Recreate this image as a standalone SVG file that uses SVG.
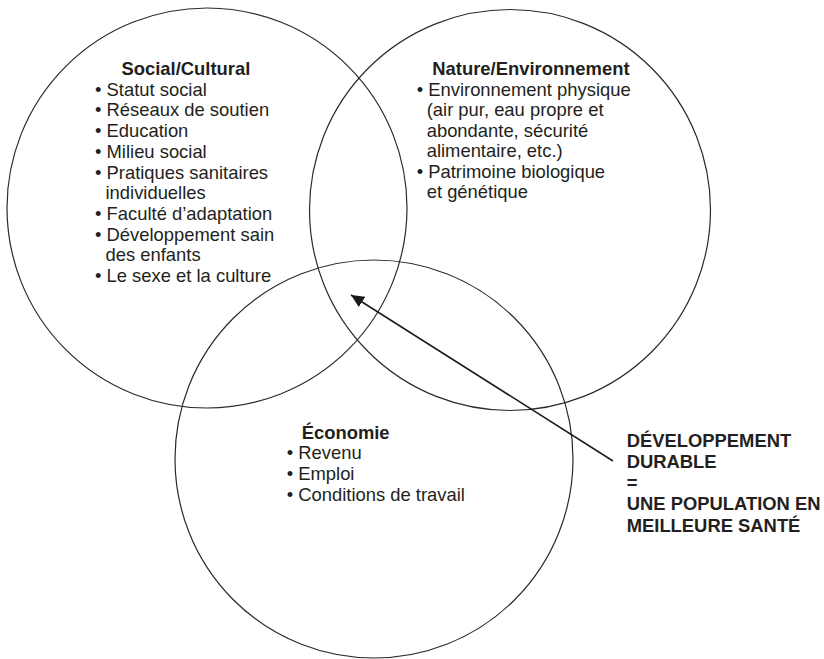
<svg xmlns="http://www.w3.org/2000/svg" width="824" height="659" viewBox="0 0 824 659">
<defs>
<style>
.c{fill:none;stroke:#2a2a2a;stroke-width:1.2}
.t{font-family:"Liberation Sans",Arial,sans-serif;font-size:18.4px;fill:#231f20}
.b{font-weight:bold}
</style>
<marker id="ah" viewBox="0 0 13 12" refX="13" refY="6" markerWidth="13" markerHeight="12" markerUnits="userSpaceOnUse" orient="auto">
<path d="M0,0 L13,6 L0,12 Z" fill="#1a1a1a"/>
</marker>
</defs>
<rect width="824" height="659" fill="#fff"/>
<g id="social">
<circle class="c" cx="207" cy="208" r="200"/>
<text class="t b" x="121.5" y="75">Social/Cultural</text>
<text class="t" x="95" y="95.7">• Statut social</text>
<text class="t" x="95" y="116.4">• Réseaux de soutien</text>
<text class="t" x="95" y="137.1">• Education</text>
<text class="t" x="95" y="157.8">• Milieu social</text>
<text class="t" x="95" y="178.5">• Pratiques sanitaires</text>
<text class="t" x="105.5" y="199.2">individuelles</text>
<text class="t" x="95" y="219.9">• Faculté d’adaptation</text>
<text class="t" x="95" y="240.6">• Développement sain</text>
<text class="t" x="105.5" y="261.3">des enfants</text>
<text class="t" x="95" y="282">• Le sexe et la culture</text>
</g>
<g id="nature">
<circle class="c" cx="510" cy="210" r="200.5"/>
<text class="t b" x="432.3" y="75">Nature/Environnement</text>
<text class="t" x="416.7" y="95.5">• Environnement physique</text>
<text class="t" x="426.7" y="116">(air pur, eau propre et</text>
<text class="t" x="426.7" y="136.5">abondante, sécurité</text>
<text class="t" x="426.7" y="157">alimentaire, etc.)</text>
<text class="t" x="416.7" y="177.5">• Patrimoine biologique</text>
<text class="t" x="426.7" y="198">et génétique</text>
</g>
<g id="economie">
<circle class="c" cx="374" cy="459" r="199"/>
<text class="t b" x="301.7" y="438.5">Économie</text>
<text class="t" x="286.7" y="459.3">• Revenu</text>
<text class="t" x="286.7" y="480.1">• Emploi</text>
<text class="t" x="286.7" y="500.9">• Conditions de travail</text>
</g>
<g id="resultat">
<text class="t b" x="626.7" y="446.7">DÉVELOPPEMENT</text>
<text class="t b" x="626.7" y="467.9">DURABLE</text>
<text class="t b" x="626.7" y="489.1">=</text>
<text class="t b" x="626.7" y="510.3">UNE POPULATION EN</text>
<text class="t b" x="626.7" y="531.5">MEILLEURE SANTÉ</text>
</g>
<g id="connectors">
<line x1="613" y1="461" x2="351" y2="295" stroke="#1a1a1a" stroke-width="1.5" marker-end="url(#ah)"/>
</g>
</svg>
